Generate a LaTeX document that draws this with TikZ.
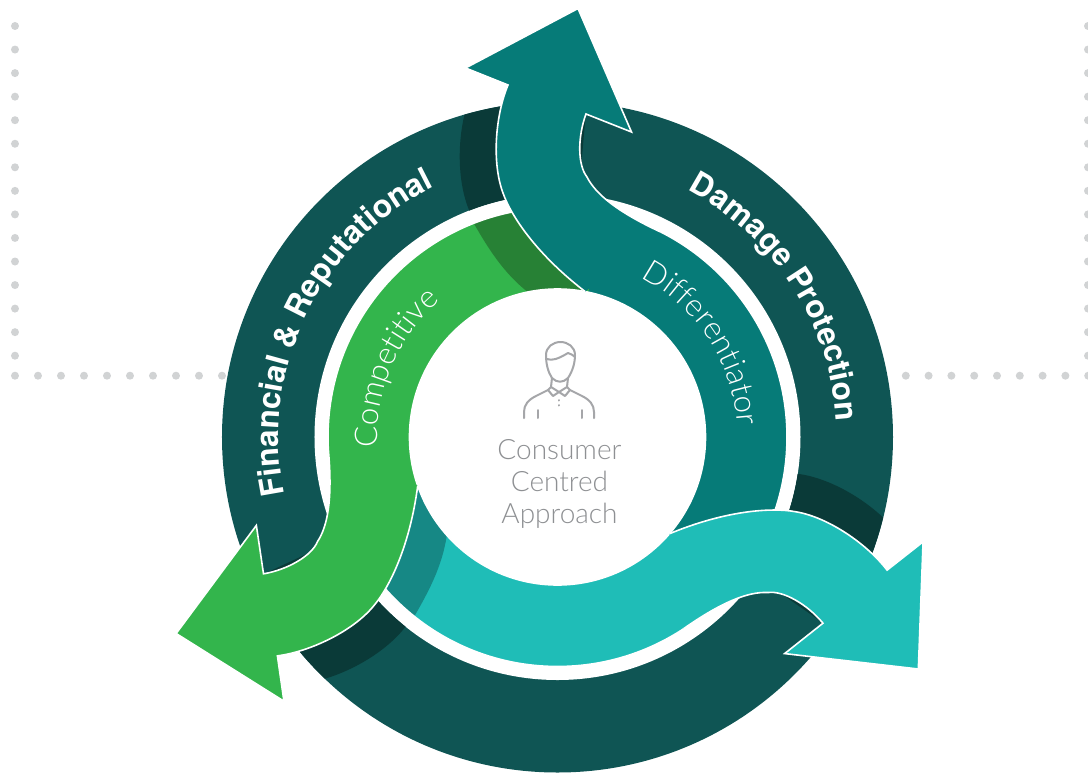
\documentclass[tikz,border=0pt]{standalone}
\usepackage{fontspec}
\setmainfont{TeX Gyre Heros}
\newfontfamily\lightfont{Lato Light}
\usetikzlibrary{decorations.text}
\definecolor{ringcol}{HTML}{0F5554}
\definecolor{ringdark}{HTML}{0A3A38}
\definecolor{tealcol}{HTML}{067B78}
\definecolor{greencol}{HTML}{33B54C}
\definecolor{greendark}{HTML}{278135}
\definecolor{cyancol}{HTML}{1FBDB7}
\definecolor{cyandark}{HTML}{168885}
\definecolor{dotcol}{HTML}{D1D3D4}
\definecolor{textgray}{HTML}{8E9093}
\newcommand{\boldring}{\fontsize{23.7}{24}\selectfont\bfseries\color{white}}
\newcommand{\lightring}{\fontsize{23.5}{24}\selectfont\lightfont\color{white}}
\tikzset{
  dotmark/.style={fill=dotcol},
  edgeline/.style={draw=white,line width=1.2pt,line join=miter},
  ringtext/.style={decorate,decoration={text along path,text align=center,text={#1}}},
  iconline/.style={draw=textgray!80,line width=1.5pt,line cap=round,line join=round}
}
\begin{document}
\begin{tikzpicture}[x=0.75pt,y=0.75pt]
\useasboundingbox (-557.5,-335) rectangle (530.5,437);

% dotted frame
\foreach \x in {-542.5,530.5}
\foreach \y in {0,...,14}
\fill[dotmark] (\x,{411-23.55*\y}) circle (4);
\foreach \x in {0,...,9}
\fill[dotmark] ({-542.5+23*\x},61.3) circle (4);
\foreach \x in {0,...,9}
\fill[dotmark] ({325.5+22.8*\x},61.3) circle (4);

% outer ring
\fill[ringcol] (0,0) circle (335.5);
\fill[white] (0,0) circle (243);
\foreach \ang in {0,-120,120}
\fill[ringdark,rotate=\ang] (106.1:335.5) .. controls (-100,293) and (-100,255) .. (111.3:243)
  arc[start angle=111.3,end angle=85,radius=243] -- (85:335.5)
  arc[start angle=85,end angle=106.1,radius=335.5] -- cycle;

% tails on the inner ring
\foreach \ang/\col in {0/tealcol,-120/cyancol,120/greencol}
\fill[\col,rotate=\ang] (79.2:148) arc[start angle=79.2,end angle=-42,radius=148]
  -- (-42:229.5) arc[start angle=-42,end angle=79.2,radius=229.5] -- cycle;

% darker ends of two tails
\foreach \ang/\col in {0/greendark,120/cyandark}
\fill[\col,rotate=\ang] (111.4:229.5) .. controls (-70,190) and (-55,165) .. (101.6:148)
  arc[start angle=101.6,end angle=79,radius=148]
  -- (79:229.5) arc[start angle=79,end angle=111.4,radius=229.5] -- cycle;
\draw[edgeline] (0,0) circle (229.5);
\draw[edgeline] (0,0) circle (148);

% the three arrows
\foreach \ang/\col in {0/tealcol,-120/cyancol,120/greencol} {
\fill[\col,rotate=\ang] (79.2:148) .. controls (-20,182) and (-46,220) .. (-54.5,244)
  .. controls (-66,275) and (-62,322) .. (-49.5,352)
  -- (-92,369) -- (20.5,428.5) -- (74,305) -- (28.5,323)
  .. controls (20,300) and (20,272) .. (29.5,260)
  .. controls (38,243) and (60,225) .. (63.3:229.5) -- cycle;
\draw[edgeline,rotate=\ang] (79.2:148) .. controls (-20,182) and (-46,220) .. (-54.5,244)
  .. controls (-66,275) and (-62,322) .. (-49.5,352)
  -- (-92,369) -- (20.5,428.5) -- (74,305) -- (28.5,323)
  .. controls (20,300) and (20,272) .. (29.5,260)
  .. controls (38,243) and (60,225) .. (63.3:229.5);
}

% ring labels
\path[ringtext={|\boldring|Damage Protection}]
  (63.7:279) arc[start angle=63.7,end angle=1.7,radius=279];
\path[ringtext={|\boldring|Financial {\&} Reputational}]
  (194:279) arc[start angle=194,end angle=114,radius=279];
\path[ringtext={|\lightring|Competitive}]
  (187.5:180) arc[start angle=187.5,end angle=126.5,radius=180];
\path[ringtext={|\lightring|Differentiator}]
  (66:180) arc[start angle=66,end angle=0,radius=180];

% person
\begin{scope}[shift={(-557.5,437)},y=-0.75pt]
\draw[iconline] (552,378) .. controls (548,372) and (546,364) .. (546,355)
  .. controls (546,347) and (553,342) .. (560.5,342)
  .. controls (568,342) and (575,347) .. (575,355)
  .. controls (575,364) and (572,372) .. (568,378)
  .. controls (563,383) and (557,383) .. (552,378);
\draw[iconline] (547,359) .. controls (552,361) and (558,359) .. (568,353) .. controls (571,354) and (573,355) .. (575,357);
\draw[iconline] (552,378) -- (551,387) -- (559,392) -- (567,387) -- (568,378);
\draw[iconline] (551,387) -- (548,390) -- (553,396) -- (559,392) -- (565,396) -- (570,390) -- (567,387);
\draw[iconline] (548,390) -- (536,396) .. controls (528,400) and (524,405) .. (524,412) -- (524,418);
\draw[iconline] (570,390) -- (582,396) .. controls (590,400) and (594,405) .. (594,412) -- (594,418);
\draw[iconline] (538,410) -- (538,418);
\draw[iconline] (581.5,410) -- (581.5,418);
\draw[iconline] (559,400) -- (559,400.5);
\draw[iconline] (559,405) -- (559,405.5);
\end{scope}

\node[text=textgray,align=center,font={\fontsize{21}{24}\selectfont\lightfont}] (approach) at (2,-47) {Consumer\\Centred\\Approach};
\end{tikzpicture}
\end{document}
